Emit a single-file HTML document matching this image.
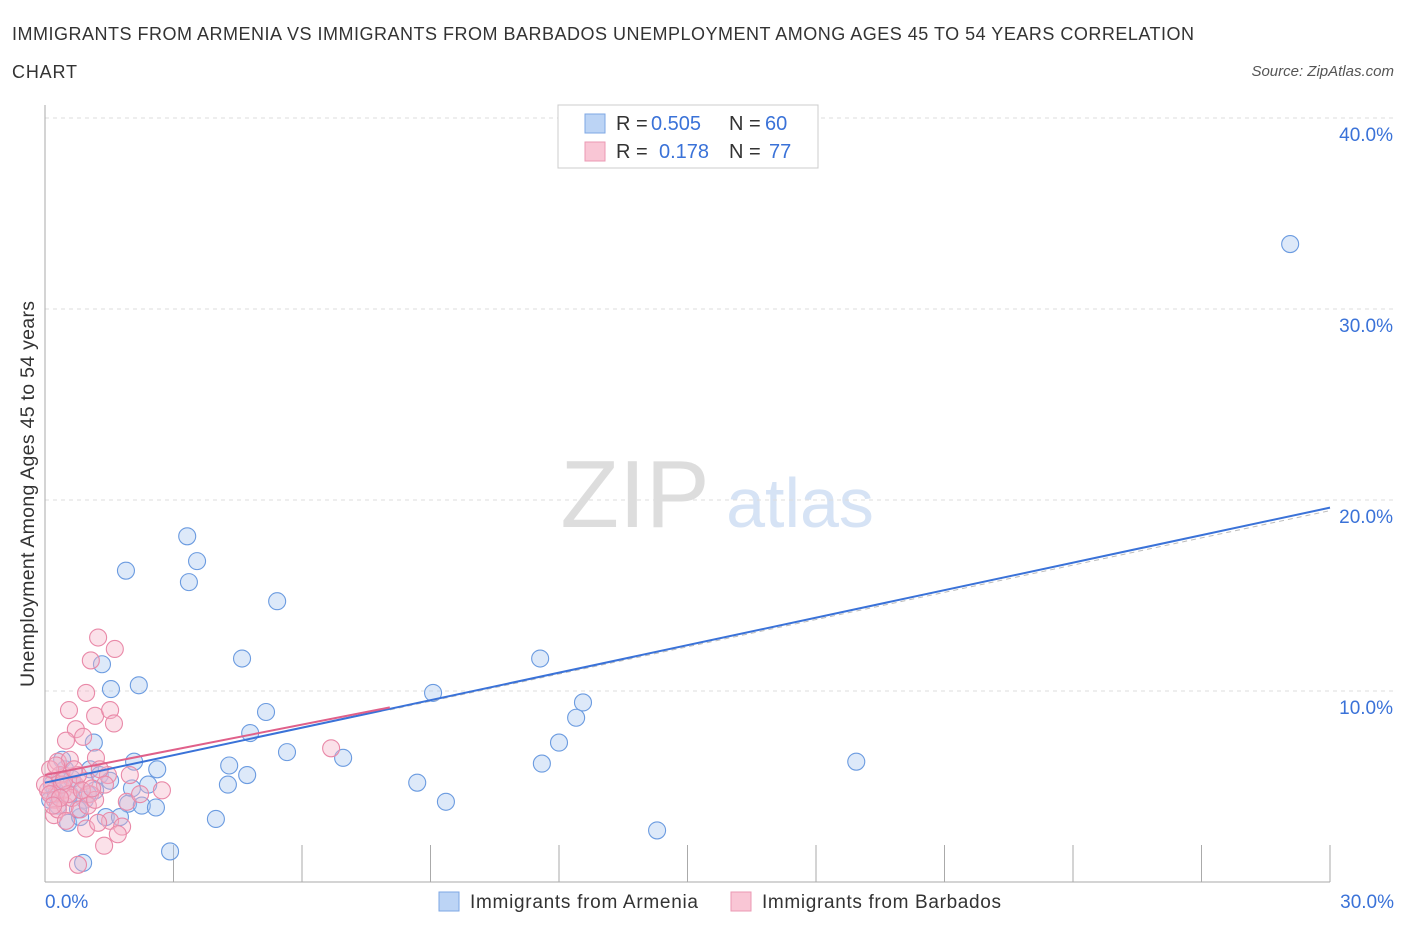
<!DOCTYPE html>
<html><head><meta charset="utf-8"><style>
body{margin:0;background:#fff;font-family:"Liberation Sans",sans-serif;}
svg text{font-family:"Liberation Sans",sans-serif;}
</style></head><body>
<svg id="chart" width="1406" height="930">
<text x="12" y="40" font-size="18" fill="#333" textLength="1182">IMMIGRANTS FROM ARMENIA VS IMMIGRANTS FROM BARBADOS UNEMPLOYMENT AMONG AGES 45 TO 54 YEARS CORRELATION</text>
<text x="12" y="78" font-size="18" fill="#333" textLength="65">CHART</text>
<text x="1394" y="76" font-size="15" fill="#555" font-style="italic" text-anchor="end">Source: ZipAtlas.com</text>
<text x="635" y="527" font-size="96" fill="#ddd" font-family="Liberation Serif" text-anchor="middle">ZIP</text>
<text x="800" y="527" font-size="70" fill="#d6e3f5" text-anchor="middle">atlas</text>
<text transform="translate(34,494) rotate(-90)" font-size="19.5" fill="#333" text-anchor="middle" textLength="386">Unemployment Among Ages 45 to 54 years</text>
<g id="grid"></g><g id="marks"></g>
<g>
<rect x="558" y="105" width="260" height="63" fill="#fff" stroke="#ccc"/>
<rect x="585" y="114" width="20" height="19" fill="#bcd4f5" stroke="#7ea7e4"/>
<rect x="585" y="142" width="20" height="19" fill="#f9c6d5" stroke="#eb98b3"/>
<text y="130" font-size="20" fill="#333"><tspan x="616">R =</tspan><tspan x="651" fill="#3a72d8">0.505</tspan><tspan x="729">N =</tspan><tspan x="765" fill="#3a72d8">60</tspan></text>
<text y="158" font-size="20" fill="#333"><tspan x="616">R =</tspan><tspan x="659" fill="#3a72d8">0.178</tspan><tspan x="729">N =</tspan><tspan x="769" fill="#3a72d8">77</tspan></text>
</g>
<g>
<rect x="439" y="892" width="20" height="19" fill="#bcd4f5" stroke="#7ea7e4"/>
<text x="470" y="908" font-size="19" fill="#333" textLength="228">Immigrants from Armenia</text>
<rect x="731" y="892" width="20" height="19" fill="#f9c6d5" stroke="#eb98b3"/>
<text x="762" y="908" font-size="19" fill="#333" textLength="239">Immigrants from Barbados</text>
</g>
</svg>
<script>
const xTicks=[0,3,6,9,12,15,18,21,24,27,30];
const yTicks=[10,20,30,40];
const armX=[29.07,3.32,3.55,1.89,3.36,5.42,4.60,11.56,1.33,2.19,1.54,9.06,5.16,12.56,12.40,4.79,1.14,12.00,5.65,6.96,18.94,2.08,2.62,4.30,11.60,4.72,8.69,4.27,2.03,2.41,9.36,1.94,2.26,2.59,1.42,1.75,3.99,0.54,0.82,14.29,2.92,0.89,1.05,0.35,0.23,0.58,0.12,0.70,0.47,1.28,0.93,0.30,0.16,1.17,1.52,0.40,0.77,1.0,0.63,0.26];
const armY=[33.4,18.1,16.8,16.3,15.7,14.7,11.7,11.7,11.4,10.3,10.1,9.9,8.9,9.4,8.6,7.8,7.3,7.3,6.8,6.5,6.3,6.3,5.9,6.1,6.2,5.6,5.2,5.1,4.9,5.1,4.2,4.1,4.0,3.9,3.4,3.4,3.3,3.1,3.4,2.7,1.6,1.0,5.9,5.3,4.8,4.6,4.3,5.1,5.9,5.6,4.3,4.0,5.1,4.8,5.3,6.4,3.8,4.6,5.4,4.6];
const barX=[1.24,1.63,1.07,0.96,0.56,1.17,1.52,1.61,0.72,0.49,0.89,6.68,0.30,0.58,1.19,1.47,0.35,0.16,0.07,0.23,0.42,0.70,0.93,1.05,1.28,1.91,1.52,1.80,1.70,1.38,0.77,2.73,0.21,0.47,0.63,0.82,0.12,0.26,0.40,0.54,0.77,0.0,1.0,1.17,1.40,0.30,0.12,0.44,0.68,0.86,1.10,0.35,0.19,0.49,0.96,1.24,2.22,1.98];
const barY=[12.8,12.2,11.6,9.9,9.0,8.7,9.0,8.3,8.0,7.4,7.6,7.0,6.3,6.4,6.5,5.6,5.6,5.3,4.8,4.3,4.8,5.1,5.3,4.6,5.9,4.2,3.2,2.9,2.5,1.9,0.9,4.8,3.5,4.0,4.4,3.8,5.9,6.1,5.1,4.6,5.6,5.1,4.0,4.3,5.1,3.8,4.6,5.3,5.9,4.8,4.9,4.4,4.0,3.2,2.8,3.1,4.6,5.6];
const armLine=[5.2,19.6];
const barLine=[5.6,10.0];
const barLineEnd=8.05;
const sx=v=>45+v/30*1285, sy=v=>882-v*19.1;
const NS="http://www.w3.org/2000/svg";
function mk(t,a,p){const e=document.createElementNS(NS,t);for(const k in a)e.setAttribute(k,a[k]);p.appendChild(e);return e;}
const grid=document.getElementById('grid'),marks=document.getElementById('marks');
yTicks.forEach(v=>{
 const l=mk('line',{x1:45,x2:1394,y1:sy(v),y2:sy(v),stroke:'#ddd','stroke-dasharray':'4,4'},grid);
 
 
 const t=mk('text',{x:1393,y:sy(v)+23,'font-size':19,fill:'#3a72d8','text-anchor':'end'},grid);t.textContent=v.toFixed(1)+'%';
 
 
});
mk('line',{x1:45,x2:45,y1:105,y2:882,stroke:'#aaa'},grid);
mk('line',{x1:45,x2:1330,y1:882,y2:882,stroke:'#aaa'},grid);
xTicks.forEach(v=>{const l=mk('line',{x1:sx(v),x2:sx(v),y1:845,y2:882,stroke:'#aaa'},grid);
 
 });
[[0,'start',45],[30,'end',1394]].forEach(([v,a,x])=>{const t=mk('text',{x:x,y:908,'font-size':19,fill:'#3a72d8','text-anchor':a},grid);t.textContent=v.toFixed(1)+'%';
 
 });
function dots(X,Y,fill,stroke,name){X.forEach((x,i)=>{const c=mk('circle',{cx:sx(x),cy:sy(Y[i]),r:8.5,fill:fill,'fill-opacity':0.4,stroke:stroke,'stroke-width':1.1},marks);
 
 });}
dots(armX,armY,'#a9c8f0','#6b9be0','armenia-point');
dots(barX,barY,'#f5b4c8','#e989a8','barbados-point');
const dl=mk('line',{x1:sx(barLineEnd),y1:sy(armLine[0]+(armLine[1]-armLine[0])*barLineEnd/30)+1,x2:1330,y2:sy(armLine[1])+3,stroke:'#bbb','stroke-dasharray':'5,4'},marks);


const al=mk('line',{x1:sx(0),y1:sy(armLine[0]),x2:sx(30),y2:sy(armLine[1]),stroke:'#3a72d8','stroke-width':2},marks);


const bl=mk('line',{x1:sx(0),y1:sy(barLine[0]),x2:sx(barLineEnd),y2:sy(barLine[0]+(barLine[1]-barLine[0])*barLineEnd/10),stroke:'#e0608a','stroke-width':2},marks);


</script>
</body></html>
